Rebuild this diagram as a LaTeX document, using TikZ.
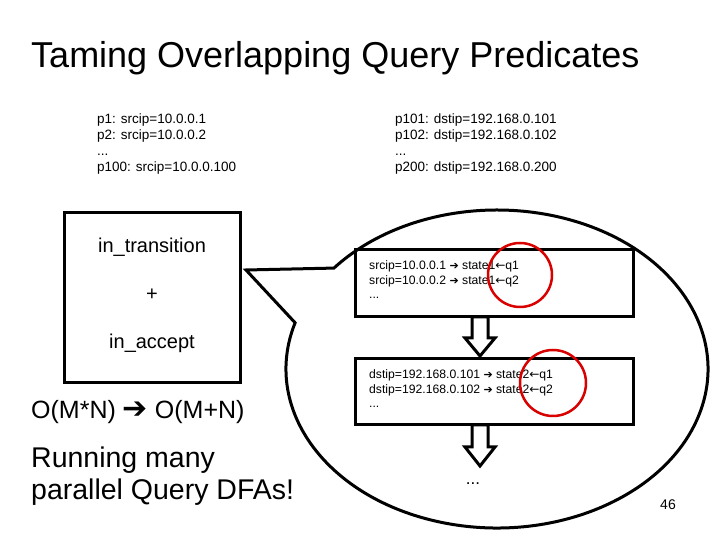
\documentclass[tikz,border=0pt]{standalone}
\usepackage{fontspec}
\setmainfont{Liberation Sans}
\newfontfamily\djv{DejaVu Sans}
\begin{document}
\begin{tikzpicture}[x=1pt,y=1pt,
  lw/.style={line width=3pt},
  small/.style={font=\fontsize{13.5}{16.3}\selectfont,anchor=west,align=left,inner sep=0pt},
  boxtxt/.style={font=\fontsize{12.2}{14.5}\selectfont,anchor=west,align=left,inner sep=0pt},
  mid/.style={font=\fontsize{20}{22}\selectfont,inner sep=0pt},
  big/.style={font=\fontsize{28.5}{32}\selectfont,anchor=west,align=left,inner sep=0pt},
  redc/.style={draw=red!85!black,line width=2.5pt},
  blockarrow/.style={draw,fill=white,line width=3pt,line join=miter}]
\useasboundingbox (0,0) rectangle (720,540);
\node[font=\fontsize{36}{40}\selectfont,anchor=west,inner sep=0pt] (title) at (31,482) {Taming Overlapping Query Predicates};
\node[small] (left) at (97,396) {p1: srcip=10.0.0.1\\p2: srcip=10.0.0.2\\...\\p100: srcip=10.0.0.100};
\node[small] (right) at (395,396) {p101: dstip=192.168.0.101\\p102: dstip=192.168.0.102\\...\\p200: dstip=192.168.0.200};
\node[lw,draw,minimum width=176,minimum height=170,inner sep=0pt] (box) at (152,242) {};
\node[mid] (t1) at (152,293) {in\_transition};
\node[mid] (t2) at (152,245) {+};
\node[mid] (t3) at (152,197) {in\_accept};
\node[font=\fontsize{25}{28}\selectfont,anchor=west,inner sep=0pt] (cmp) at (31,128) {O(M*N) {\djv\fontsize{30}{24}\selectfont ➔} O(M+N)};
\node[big] (run) at (31,64) {Running many\\parallel Query DFAs!};
% callout
\draw[lw,fill=white,line join=miter] (497,171) ++(163.1:211 and 159) coordinate (cb)
  arc[start angle=163.1,end angle=500.6,x radius=211,y radius=159] coordinate (ca)
  -- (246,270) coordinate (tip) -- cycle;
\node[lw,draw,minimum width=278,minimum height=67,inner sep=0pt] (b1) at (494,256.5) {};
\node[lw,draw,minimum width=278,minimum height=66,inner sep=0pt] (b2) at (494,148) {};
\node[boxtxt] (b1t) at (369,260) {srcip=10.0.0.1 {\djv\fontsize{11}{10}\selectfont ➔} state1{\djv\fontsize{12}{10}\selectfont ←}q1\\srcip=10.0.0.2 {\djv\fontsize{11}{10}\selectfont ➔} state1{\djv\fontsize{12}{10}\selectfont ←}q2\\...};
\node[boxtxt] (b2t) at (369,151) {dstip=192.168.0.101 {\djv\fontsize{11}{10}\selectfont ➔} state2{\djv\fontsize{12}{10}\selectfont ←}q1\\dstip=192.168.0.102 {\djv\fontsize{11}{10}\selectfont ➔} state2{\djv\fontsize{12}{10}\selectfont ←}q2\\...};
\draw[blockarrow] (472,223) -- (472,202) -- (465,202) -- (480,184) coordinate (a1tip) -- (495,202) -- (488,202) -- (488,223) -- cycle;
\draw[blockarrow] (472,115) -- (472,93) -- (465,93) -- (480,74) coordinate (a2tip) -- (495,93) -- (488,93) -- (488,115) -- cycle;
\node[font=\fontsize{17}{17}\selectfont,inner sep=0pt] (dots) at (473,56) {...};
\draw[redc] (520,265) circle (32);
\draw[redc] (553,157) circle (33);
\node[font=\fontsize{14}{14}\selectfont,inner sep=0pt] (pg) at (668,35) {46};
\end{tikzpicture}
\end{document}
